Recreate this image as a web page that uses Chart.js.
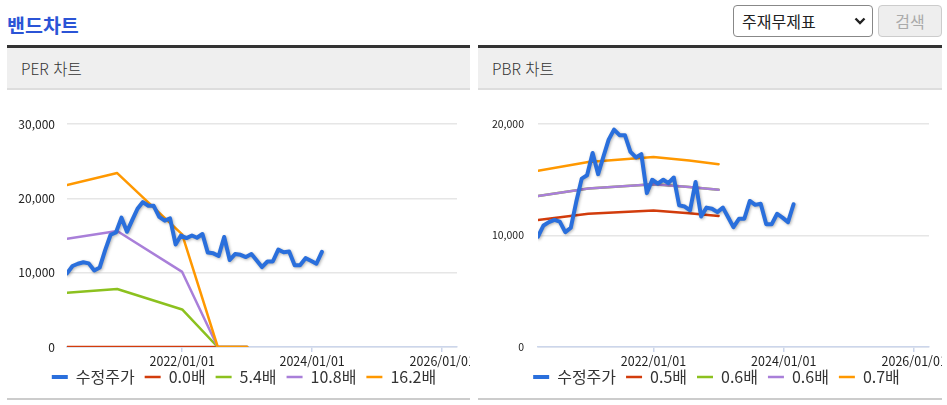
<!DOCTYPE html>
<html lang="ko">
<head>
<meta charset="UTF-8">
<title>밴드차트</title>
<script src="https://cdn.jsdelivr.net/npm/chart.js"></script>
<style>
    body { margin: 0; background: #fff; font-family: 'Noto Sans CJK KR', sans-serif; }
    .title { position: absolute; left: 7px; top: 15px; font-size: 19.5px; line-height: 19px; font-weight: bold; color: #2b54d6; }
    .search { position: absolute; left: 733px; top: 5px; width: 140px; height: 32px; font-size: 16px; font-family: 'Noto Sans CJK KR', sans-serif;
              border: 1px solid #888; border-radius: 4px; color: #222; padding-left: 8px;
              -webkit-appearance: none; appearance: none;
              background: #fff url("data:image/svg+xml;utf8,<svg xmlns='http://www.w3.org/2000/svg' width='12' height='8'><path d='M1.5 1.5l4.5 4.5 4.5-4.5' fill='none' stroke='%23222' stroke-width='2.4'/></svg>") no-repeat right 6px center; }
    .btn { position: absolute; left: 878px; top: 5px; width: 64px; height: 32px; font-size: 16px; font-family: 'Noto Sans CJK KR', sans-serif;
           border: 1px solid #ccc; border-radius: 4px; background: #eee; color: #aaa; }
    .panel { position: absolute; top: 45px; border-top: 3px solid #333; }
    .head { height: 40px; line-height: 40px; background: #efefef; border-bottom: 2px solid #ddd; padding-left: 14px; font-size: 15.5px; font-weight: 300; color: #333; }
    .box { position: relative; height: 308px; border-bottom: 2px solid #ccc; }
</style>
</head>
<body>

<div class="title">밴드차트</div>
<select class="search">
    <option>주재무제표</option>
    <option>연결재무제표</option>
</select>
<button class="btn" disabled>검색</button>

<div class="panel" style="left:7px; width:463px;">
    <div class="head">PER 차트</div>
    <div class="box"><canvas id="perChart"></canvas></div>
</div>

<div class="panel" style="left:478px; width:464px;">
    <div class="head">PBR 차트</div>
    <div class="box"><canvas id="pbrChart"></canvas></div>
</div>

<script>
    // 수정주가 (월별)
    var priceDates = [
        '2020/03', '2020/04', '2020/05', '2020/06', '2020/07', '2020/08', '2020/09', '2020/10', '2020/11', '2020/12',
        '2021/01', '2021/02', '2021/03', '2021/04', '2021/05', '2021/06', '2021/07', '2021/08', '2021/09', '2021/10', '2021/11', '2021/12',
        '2022/01', '2022/02', '2022/03', '2022/04', '2022/05', '2022/06', '2022/07', '2022/08', '2022/09', '2022/10', '2022/11', '2022/12',
        '2023/01', '2023/02', '2023/03', '2023/04', '2023/05', '2023/06', '2023/07', '2023/08', '2023/09', '2023/10', '2023/11', '2023/12',
        '2024/01', '2024/02'
    ];
    var priceValues = [
        9900, 10900, 11200, 11400, 11250, 10300, 10700, 13000, 15100, 15400,
        17400, 15500, 17000, 18600, 19500, 19000, 19000, 17500, 17000, 17300, 13800, 15000,
        14650, 15000, 14700, 15200, 12700, 12600, 12250, 14800, 11700, 12500, 12400, 12100,
        12500, 11600, 10750, 11500, 11500, 13100, 12750, 12850, 11000, 11000, 11950, 11600,
        11200, 12800
    ];

    // 밴드 기준일
    var bandDates = ['2020/03/25', '2021/01/01', '2022/01/01', '2022/07/20', '2023/01/01'];

    // PER 밴드
    var perLabels = ['0.0배', '5.4배', '10.8배', '16.2배'];
    var per00 = [0, 0, 0, 0, 0];
    var per54 = [7300, 7800, 5050, 0, 0];
    var per108 = [14550, 15600, 10100, 0, 0];
    var per162 = [21800, 23400, 15150, 0, 0];

    // PBR 밴드
    var pbrLabels = ['0.5배', '0.6배', '0.6배', '0.7배'];
    var pbr05 = [11400, 11950, 12250, 12000, 11750];
    var pbr06a = [13550, 14220, 14600, 14350, 14100];
    var pbr06b = [13550, 14220, 14600, 14350, 14100];
    var pbr07 = [15800, 16600, 17050, 16725, 16400];

    // x축 눈금
    var xTickLabels = ['2022/01/01', '2024/01/01', '2026/01/01'];
    var xEnd = '2026/03/25';

    var FONT = "'Noto Sans CJK KR', sans-serif";

    function toTime(s) {
        var p = s.split('/').map(Number);
        return Date.UTC(p[0], p[1] - 1, p[2] || 25); // 월 데이터는 25일로
    }

    // 수정주가 선에 그림자
    var shadowPlugin = {
        id: 'priceShadow',
        beforeDatasetDraw: function (chart, args) {
            if (args.index !== 0) return;
            var c = chart.ctx;
            c.save();
            c.shadowColor = 'rgba(0,0,0,0.3)';
            c.shadowBlur = 3;
            c.shadowOffsetX = 1;
            c.shadowOffsetY = 1;
        },
        afterDatasetDraw: function (chart, args) {
            if (args.index === 0) chart.ctx.restore();
        }
    };

    // 범례 위치 살짝 옮기기
    var legendShift = {
        id: 'legendShift',
        afterLayout: function (chart, args, opts) {
            var lg = chart.legend;
            lg.left += opts.dx;
            lg.right += opts.dx;
            lg.top += opts.dy;
            lg.bottom += opts.dy;
        }
    };

    function makeChart(id, bandLabels, bands, yMax, cfg) {
        var colors = ['#d23c0c', '#8cc11f', '#a97fd9', '#ff9800'];
        var orders = [4, 3, 2, 1];
        var datasets = [{
            label: '수정주가',
            data: priceDates.map(function (d, i) { return { x: toTime(d), y: priceValues[i] }; }),
            borderColor: '#2a6fdc',
            backgroundColor: '#2a6fdc',
            borderWidth: 4,
            order: 0
        }];
        bands.forEach(function (vals, k) {
            datasets.push({
                label: bandLabels[k],
                data: bandDates.map(function (d, i) { return { x: toTime(d), y: vals[i] }; }),
                borderColor: colors[k],
                backgroundColor: colors[k],
                borderWidth: 2.5,
                order: orders[k]
            });
        });

        return new Chart(document.getElementById(id), {
            type: 'line',
            data: { datasets: datasets },
            plugins: [shadowPlugin, legendShift],
            options: {
                responsive: true,
                maintainAspectRatio: false,
                animation: false,
                layout: { padding: { top: 34, left: 0, right: 13, bottom: -7 } },
                elements: {
                    point: { radius: 0 },
                    line: { tension: 0, borderJoinStyle: 'round', borderCapStyle: 'round' }
                },
                plugins: {
                    tooltip: { enabled: false },
                    legendShift: { dx: cfg.legendDx, dy: -10 },
                    legend: {
                        position: 'bottom',
                        labels: {
                            usePointStyle: true,
                            pointStyle: 'line',
                            pointStyleWidth: 16,
                            padding: 10,
                            color: '#333',
                            font: { size: 16, family: FONT },
                            sort: function (a, b) { return a.datasetIndex - b.datasetIndex; }
                        }
                    }
                },
                scales: {
                    x: {
                        type: 'linear',
                        min: toTime(priceDates[0]),
                        max: toTime(xEnd),
                        afterBuildTicks: function (s) {
                            s.ticks = xTickLabels.map(function (t) { return { value: toTime(t) }; });
                        },
                        afterFit: function (s) {
                            s.height = 22;
                            s.paddingLeft = 0;
                            s.paddingRight = 0;
                        },
                        grid: { drawOnChartArea: false, tickLength: 5, color: '#ccd6eb', lineWidth: 1.5 },
                        border: { color: '#ccd6eb', width: 1.5 },
                        ticks: {
                            padding: 2,
                            maxRotation: 0,
                            autoSkip: false,
                            color: '#222',
                            font: { size: 12.5, family: FONT },
                            callback: function (v, i) { return xTickLabels[i]; }
                        }
                    },
                    y: {
                        min: 0,
                        max: yMax,
                        afterFit: function (s) {
                            s.width = 60;
                            s.paddingTop = 0;
                            s.paddingBottom = 0;
                        },
                        grid: { color: '#e6e6e6', lineWidth: 1.5, drawTicks: false },
                        border: { display: false },
                        ticks: {
                            stepSize: 10000,
                            padding: cfg.yPad,
                            color: '#222',
                            font: { size: cfg.yFont, family: FONT },
                            callback: function (v) { return v.toLocaleString('en-US'); }
                        }
                    }
                }
            }
        });
    }

    makeChart('perChart', perLabels, [per00, per54, per108, per162], 30000, { legendDx: 12, yPad: 12, yFont: 12 });
    makeChart('pbrChart', pbrLabels, [pbr05, pbr06a, pbr06b, pbr07], 20000, { legendDx: 13, yPad: 14, yFont: 10.5 });
</script>
</body>
</html>
